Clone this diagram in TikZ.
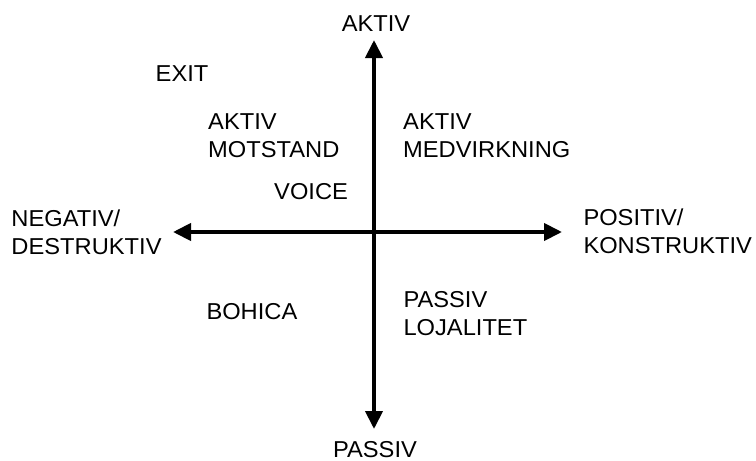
\documentclass[tikz,border=0pt]{standalone}
\usepackage{fontspec}
\setmainfont[FakeStretch=1.03]{Liberation Sans}
\usetikzlibrary{arrows.meta}
\begin{document}
\begin{tikzpicture}[x=1pt,y=-1pt,
  label/.style={inner sep=0pt, align=left, anchor=north west,
    font=\fontsize{23}{28}\selectfont},
  pole/.style={inner sep=0pt, anchor=base, font=\fontsize{23}{28}\selectfont},
  axis/.style={line width=4pt, {Triangle[length=18pt,width=17pt]}-{Triangle[length=18pt,width=17pt]}}]
  \useasboundingbox (0,0) rectangle (756,461);

  % axis end points
  \coordinate (top) at (374,40);
  \coordinate (bottom) at (374,429);
  \coordinate (left) at (173,232);
  \coordinate (right) at (562,232);

  \draw[axis] (top) -- (bottom);
  \draw[axis] (left) -- (right);

  % pole labels
  \node[pole] (aktiv) at (376,31) {AKTIV};
  \node[pole] (passiv) at (375,457) {PASSIV};
  \node[label] (neg) at (11.3,209.5) {NEGATIV/\\DESTRUKTIV};
  \node[label] (pos) at (583.3,208.5) {POSITIV/\\KONSTRUKTIV};

  % quadrant labels
  \node[label] (exit) at (155.5,65.5) {EXIT};
  \node[label] (motstand) at (208,113.5) {AKTIV\\MOTSTAND};
  \node[label] (medvirk) at (403,113.5) {AKTIV\\MEDVIRKNING};
  \node[label] (voice) at (274,183.5) {VOICE};
  \node[label] (bohica) at (206.3,303.5) {BOHICA};
  \node[label] (lojal) at (403.3,291.5) {PASSIV\\LOJALITET};
\end{tikzpicture}
\end{document}
